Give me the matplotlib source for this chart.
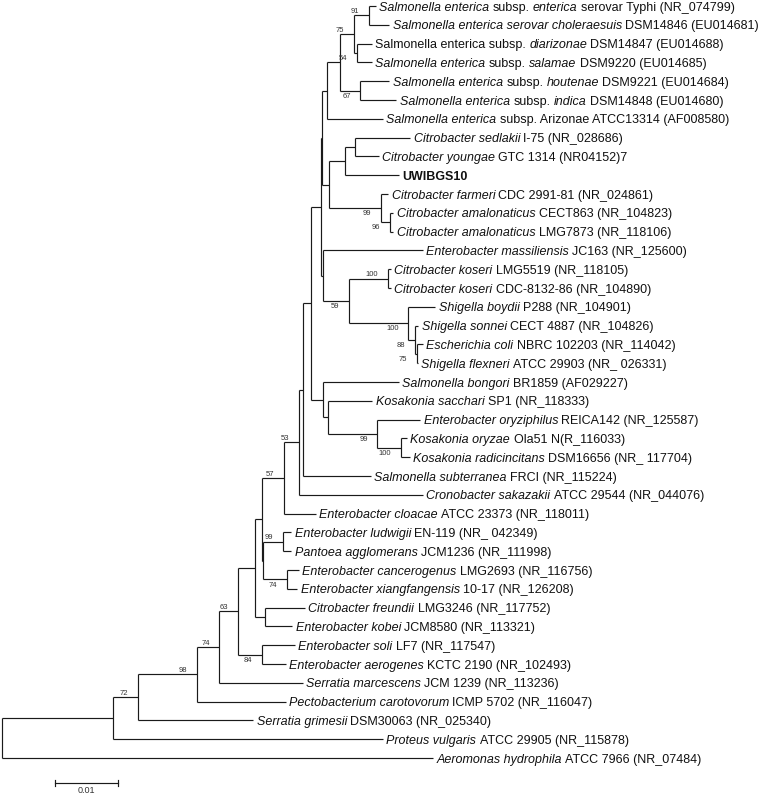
import matplotlib.pyplot as plt

plt.rcParams['font.family'] = ['Liberation Sans', 'DejaVu Sans']

# leaf labels, top to bottom (*...* = italic)
taxa = [
    "*Salmonella enterica* subsp. *enterica* serovar Typhi (NR_074799)",
    "*Salmonella enterica serovar choleraesuis* DSM14846 (EU014681)",
    "Salmonella enterica subsp. *diarizonae* DSM14847 (EU014688)",
    "*Salmonella enterica* subsp. *salamae* DSM9220 (EU014685)",
    "*Salmonella enterica* subsp. *houtenae* DSM9221 (EU014684)",
    "*Salmonella enterica* subsp. *indica* DSM14848 (EU014680)",
    "*Salmonella enterica* subsp. Arizonae ATCC13314 (AF008580)",
    "*Citrobacter sedlakii* I-75 (NR_028686)",
    "*Citrobacter youngae* GTC 1314 (NR04152)7",
    "UWIBGS10",
    "*Citrobacter farmeri* CDC 2991-81 (NR_024861)",
    "*Citrobacter amalonaticus* CECT863 (NR_104823)",
    "*Citrobacter amalonaticus* LMG7873 (NR_118106)",
    "*Enterobacter massiliensis* JC163 (NR_125600)",
    "*Citrobacter koseri* LMG5519 (NR_118105)",
    "*Citrobacter koseri* CDC-8132-86 (NR_104890)",
    "*Shigella boydii* P288 (NR_104901)",
    "*Shigella sonnei* CECT 4887 (NR_104826)",
    "*Escherichia coli* NBRC 102203 (NR_114042)",
    "*Shigella flexneri* ATCC 29903 (NR_ 026331)",
    "*Salmonella bongori* BR1859 (AF029227)",
    "*Kosakonia sacchari* SP1 (NR_118333)",
    "*Enterobacter oryziphilus* REICA142 (NR_125587)",
    "*Kosakonia oryzae* Ola51 N(R_116033)",
    "*Kosakonia radicincitans* DSM16656 (NR_ 117704)",
    "*Salmonella subterranea* FRCI (NR_115224)",
    "*Cronobacter sakazakii* ATCC 29544 (NR_044076)",
    "*Enterobacter cloacae* ATCC 23373 (NR_118011)",
    "*Enterobacter ludwigii* EN-119 (NR_ 042349)",
    "*Pantoea agglomerans* JCM1236 (NR_111998)",
    "*Enterobacter cancerogenus* LMG2693 (NR_116756)",
    "*Enterobacter xiangfangensis* 10-17 (NR_126208)",
    "*Citrobacter freundii* LMG3246 (NR_117752)",
    "*Enterobacter kobei* JCM8580 (NR_113321)",
    "*Enterobacter soli* LF7 (NR_117547)",
    "*Enterobacter aerogenes* KCTC 2190 (NR_102493)",
    "*Serratia marcescens* JCM 1239 (NR_113236)",
    "*Pectobacterium carotovorum* ICMP 5702 (NR_116047)",
    "*Serratia grimesii* DSM30063 (NR_025340)",
    "*Proteus vulgaris* ATCC 29905 (NR_115878)",
    "*Aeromonas hydrophila* ATCC 7966 (NR_07484)",
]
bold_taxa = ["UWIBGS10"]

leaf_parent = ["n91", "n91", "sal_ds", "sal_ds", "n67", "n67", "sal", "cit_sy", "cit_sy", "cit_u",
               "n99a", "n96", "n96", "r", "kos100", "kos100", "shi100", "shi88", "shi75", "shi75",
               "w", "x", "n99c", "n100c", "n100c", "v", "n53", "n57", "n99b", "n99b",
               "n74b", "n74b", "fk", "fk", "n84", "n84", "n74", "n98", "n72", "n113", "root"]
leaf_length = [0.0010, 0.0032, 0.0024, 0.0024, 0.0046, 0.0057, 0.0089, 0.0087, 0.0037, 0.0086,
               0.0011, 0.0005, 0.0005, 0.0159, 0.0005, 0.0005, 0.0043, 0.0005, 0.0010, 0.0002,
               0.0121, 0.0071, 0.0068, 0.0010, 0.0014, 0.0108, 0.0197, 0.0051, 0.0013, 0.0013,
               0.0019, 0.0017, 0.0063, 0.0043, 0.0052, 0.0037, 0.0132, 0.0140, 0.0183, 0.0429, 0.0684]

# internal nodes: name, parent, branch length
internal_nodes = [
    ("n113", "root", 0.0176), ("n72", "n113", 0.0040), ("n98", "n72", 0.0094),
    ("n74", "n98", 0.0035), ("n63", "n74", 0.0030), ("b", "n63", 0.0027),
    ("n84", "n63", 0.0038), ("fk", "b", 0.0016), ("c", "b", 0.0010),
    ("d", "c", 0.0002), ("n99b", "d", 0.0032), ("n74b", "d", 0.0038),
    ("n57", "c", 0.0035), ("n53", "n57", 0.0024), ("v", "n53", 0.0006),
    ("s", "v", 0.0013), ("t", "s", 0.0016), ("w", "s", 0.0019),
    ("u", "t", 0.0002), ("r", "t", 0.0003), ("sal", "u", 0.0008),
    ("q", "u", 0.0011), ("n54", "sal", 0.0021), ("n75", "n54", 0.0021),
    ("n91", "n75", 0.0025), ("sal_ds", "n75", 0.0005), ("n67", "n54", 0.0032),
    ("cit_u", "q", 0.0025), ("cit_sy", "cit_u", 0.0017), ("n99a", "q", 0.0083),
    ("n96", "n99a", 0.0014), ("n59", "r", 0.0041), ("kos100", "n59", 0.0062),
    ("shi100", "n59", 0.0095), ("shi88", "shi100", 0.0011), ("shi75", "shi88", 0.0002),
    ("x", "w", 0.0008), ("n99c", "x", 0.0079), ("n100c", "n99c", 0.0037),
]

bootstrap = {"n72": 72, "n98": 98, "n74": 74, "n63": 63, "n84": 84, "n74b": 74, "n99b": 99,
             "n57": 57, "n53": 53, "n91": 91, "n75": 75, "sal_ds": 54, "n67": 67,
             "n99a": 99, "n96": 96, "n59": 59, "kos100": 100, "shi100": 100, "shi88": 88,
             "shi75": 75, "n99c": 99, "n100c": 100}
boot_below = ["n84", "n74b", "sal_ds", "n67", "n99a", "n96", "n59", "shi100", "shi88",
              "shi75", "n99c", "n100c"]

scale_length = 0.01

# build tree
parent = {}
length = {}
for name, par, bl in internal_nodes:
    parent[name] = par
    length[name] = bl
for i in range(len(taxa)):
    parent[i] = leaf_parent[i]
    length[i] = leaf_length[i]

children = {}
for k, p in parent.items():
    children.setdefault(p, []).append(k)

xpos = {"root": 0.0}
ypos = {}


def layout(n):
    if n not in children:
        ypos[n] = n
        return n
    ys = []
    for c in children[n]:
        xpos[c] = xpos[n] + length[c]
        ys.append(layout(c))
    ypos[n] = (min(ys) + max(ys)) / 2
    return ypos[n]


layout("root")

fig = plt.figure(figsize=(7.67, 7.94), dpi=100)
ax = fig.add_axes([0, 0, 1, 1])
ax.set_xlim(-2 / 6300, 765 / 6300)
ax.set_ylim(41.91, -0.32)
ax.axis('off')

lc = '#1a1a1a'
lw = 0.85
for n, p in parent.items():
    ax.plot([xpos[p], xpos[n]], [ypos[n], ypos[n]], color=lc, lw=lw, solid_capstyle='butt')
for n, ch in children.items():
    ys = [ypos[c] for c in ch]
    ax.plot([xpos[n], xpos[n]], [min(ys), max(ys)], color=lc, lw=lw, solid_capstyle='butt')

# leaf labels
fs = 9.0
for i, lab in enumerate(taxa):
    runs = lab.split('*')
    prev = None
    for k, run in enumerate(runs):
        run = run.strip()
        if not run:
            continue
        kw = dict(fontsize=fs, color='#111111',
                  fontstyle='italic' if k % 2 else 'normal',
                  fontweight='bold' if lab in bold_taxa else 'normal')
        if prev is None:
            prev = ax.annotate(run, (xpos[i], ypos[i]), xytext=(2.4, 0),
                               textcoords='offset points', ha='left',
                               va='center_baseline', **kw)
        else:
            prev = ax.annotate(run, xy=(1, 0), xycoords=prev, xytext=(2.4, 0),
                               textcoords='offset points', ha='left', va='bottom', **kw)

# bootstrap values
for n, b in bootstrap.items():
    if n in boot_below:
        ax.annotate(str(b), (xpos[n], ypos[n]), xytext=(-7, -1.5), textcoords='offset points',
                    ha='right', va='top', fontsize=5.5, color='#333333')
    else:
        ax.annotate(str(b), (xpos[n], ypos[n]), xytext=(-7, 0.3), textcoords='offset points',
                    ha='right', va='bottom', fontsize=5.5, color='#333333')

# scale bar
sx = 53 / 6300
sy = 41.33
ax.plot([sx, sx + scale_length], [sy, sy], color=lc, lw=lw)
ax.plot([sx, sx], [sy - 0.17, sy + 0.17], color=lc, lw=lw)
ax.plot([sx + scale_length] * 2, [sy - 0.17, sy + 0.17], color=lc, lw=lw)
ax.text(sx + scale_length / 2, sy + 0.42, "0.01", ha='center', va='center', fontsize=6.5, color='#333333')

fig.savefig('out.png', dpi=100)
